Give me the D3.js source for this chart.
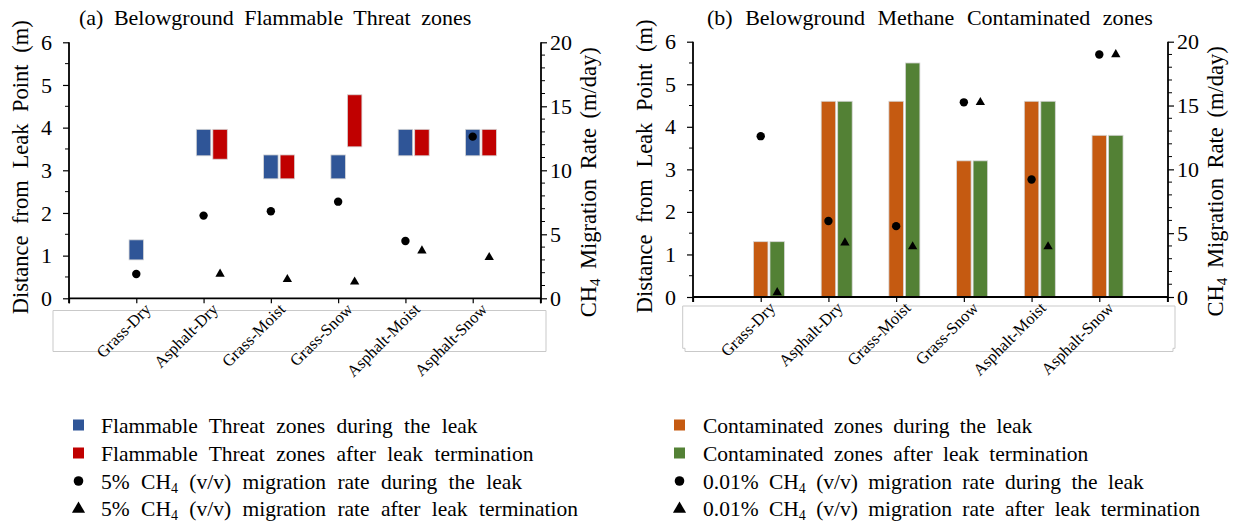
<!DOCTYPE html>
<html>
<head>
<meta charset="utf-8">
<script src="https://cdn.jsdelivr.net/npm/d3@7"></script>
<style>
  html, body { margin: 0; padding: 0; background: #fff; }
  svg { display: block; }
  text { font-family: "Liberation Serif", "Times New Roman", serif; fill: #000; }
</style>
</head>
<body>
<svg id="chart" width="1236" height="521"></svg>
<script>
// ---- data ----
const categories = ["Grass-Dry", "Asphalt-Dry", "Grass-Moist", "Grass-Snow", "Asphalt-Moist", "Asphalt-Snow"];

// (a) flammable threat zones: floating ranges [low, high] in m
const flamDuringLow  = [0.90, 3.34, 2.80, 2.80, 3.34, 3.34];
const flamDuringHigh = [1.37, 3.96, 3.36, 3.36, 3.96, 3.96];
const flamAfterLow   = [null, 3.26, 2.80, 3.55, 3.34, 3.34];
const flamAfterHigh  = [null, 3.96, 3.36, 4.77, 3.96, 3.96];
// 5% CH4 migration rate (m/day)
const rate5During = [1.90, 6.46, 6.80, 7.55, 4.48, 12.63];
const rate5After  = [null, 1.90, 1.48, 1.28, 3.72, 3.20];

// (b) contaminated zones (m)
const contDuring = [1.3, 4.6, 4.6, 3.2, 4.6, 3.8];
const contAfter  = [1.3, 4.6, 5.5, 3.2, 4.6, 3.8];
// 0.01% CH4 migration rate (m/day)
const rate001During = [12.6, 5.95, 5.55, 15.25, 9.2, 19.0];
const rate001After  = [0.35, 4.25, 3.95, 15.25, 3.95, 19.0];

const leftTicks  = [0, 1, 2, 3, 4, 5, 6];
const rightTicks = [0, 5, 10, 15, 20];

const C = { blue: "#2F5597", red: "#C00000", orange: "#C55A11", green: "#538135" };
const FONT = "'Liberation Serif', 'Times New Roman', serif";

const svg = d3.select("#chart");

function drawPanel(cfg) {
  const g = svg.append("g");
  // category positions sit on integer slots 1..6 of a 0..7 axis
  const x = d3.scaleLinear().domain([0, 7]).range([cfg.x0, cfg.x1]);
  const yL = d3.scaleLinear().domain([0, 6]).range([cfg.yBot, cfg.yTop]);
  const yR = d3.scaleLinear().domain([0, 20]).range([cfg.yBot, cfg.yTop]);
  const barW = 14.5, off = 16.5;
  const cx = i => x(i + 1);

  // label frame under the category axis
  g.append("path").attr("d", cfg.frame)
    .attr("fill", "none").attr("stroke", "#c9c9c9").attr("stroke-width", 1);

  // bars
  cfg.bars.forEach(b => {
    g.append("g").selectAll("rect")
      .data(categories.map((c, i) => ({ i, lo: b.lo[i], hi: b.hi[i] })).filter(d => d.hi != null))
      .join("rect")
      .attr("x", d => cx(d.i) + b.dx * off - barW / 2)
      .attr("width", barW)
      .attr("y", d => yL(d.hi))
      .attr("height", d => yL(d.lo) - yL(d.hi))
      .attr("fill", b.color)
      .attr("stroke", "#d6d6d6").attr("stroke-width", 0.8);
  });

  // migration rate markers (right axis)
  g.append("g").selectAll("circle")
    .data(cfg.dots.map((v, i) => ({ i, v })).filter(d => d.v != null))
    .join("circle")
    .attr("cx", d => cx(d.i)).attr("cy", d => yR(d.v)).attr("r", 4.2).attr("fill", "#000");
  const tri = d3.symbol().type(d3.symbolTriangle).size(38);
  g.append("g").selectAll("path")
    .data(cfg.tris.map((v, i) => ({ i, v })).filter(d => d.v != null))
    .join("path")
    .attr("d", tri)
    .attr("transform", d => `translate(${cx(d.i) + off},${yR(d.v)})`)
    .attr("fill", "#000");

  // left axis with half-unit minor ticks
  const axL = g.append("g").attr("transform", `translate(${cfg.x0},0)`)
    .call(d3.axisLeft(yL).tickValues(leftTicks).tickSize(6).tickPadding(11).tickFormat(d3.format("d")));
  axL.append("g").selectAll("line").data(d3.range(0.5, 6, 1)).join("line")
    .attr("x1", -4).attr("x2", 0).attr("y1", d => yL(d)).attr("y2", d => yL(d)).attr("stroke", "#000");

  // right axis with unit minor ticks
  const axR = g.append("g").attr("transform", `translate(${cfg.x1 + 1},0)`)
    .call(d3.axisRight(yR).tickValues(rightTicks).tickSize(6).tickPadding(3));
  axR.append("g").selectAll("line").data(d3.range(1, 20).filter(v => v % 5 !== 0)).join("line")
    .attr("x1", 0).attr("x2", 4).attr("y1", d => yR(d)).attr("y2", d => yR(d)).attr("stroke", "#000");

  [axL, axR].forEach(a => {
    a.attr("font-family", FONT).attr("font-size", 22);
    a.select(".domain").remove();
    a.selectAll(".tick line").attr("stroke-width", 1.2);
    a.selectAll(".tick text").style("font-family", FONT).style("font-size", "22px");
  });
  g.append("line").attr("x1", cfg.x0).attr("x2", cfg.x0).attr("y1", cfg.yTop).attr("y2", cfg.yBot + 5)
    .attr("stroke", "#000").attr("stroke-width", 1.8);
  g.append("line").attr("x1", cfg.x1 + 1).attr("x2", cfg.x1 + 1).attr("y1", cfg.yTop).attr("y2", cfg.yBot + 5)
    .attr("stroke", "#000").attr("stroke-width", 1.8);

  // category axis
  const axB = g.append("g").attr("transform", `translate(0,${cfg.yBot})`)
    .call(d3.axisBottom(x).tickValues(d3.range(0, 8)).tickSize(5).tickFormat(""));
  axB.select(".domain").attr("d", `M${cfg.x0},0H${cfg.x1 + 1}`).attr("stroke-width", 1.8);
  axB.selectAll(".tick line").attr("stroke-width", 1.2);

  g.append("g").selectAll("text").data(categories).join("text")
    .attr("transform", (d, i) => `translate(${cx(i) + 15.5},${cfg.yBot + 12}) rotate(-45)`)
    .attr("text-anchor", "end")
    .style("font-size", "16.5px")
    .text(d => d);

  // titles
  g.append("text").attr("x", cfg.titleX).attr("y", 25)
    .style("font-size", "22px").style("word-spacing", cfg.titleSpace + "px").text(cfg.title);

  g.append("text")
    .attr("transform", `translate(${cfg.x0 - 49},${(cfg.yTop + cfg.yBot) / 2 - 3}) rotate(-90)`)
    .attr("text-anchor", "middle").attr("dy", "0.35em")
    .style("font-size", "22.5px").style("word-spacing", "6px")
    .text("Distance from Leak Point (m)");

  const rt = g.append("text")
    .attr("transform", `translate(${cfg.x1 + 48},${(cfg.yTop + cfg.yBot) / 2 + 12}) rotate(-90)`)
    .attr("text-anchor", "middle").attr("dy", "0.35em")
    .style("font-size", "22.5px").style("word-spacing", "4px");
  rt.append("tspan").text("CH");
  rt.append("tspan").attr("dy", "4").style("font-size", "15px").text("4");
  rt.append("tspan").attr("dy", "-4").text(" Migration Rate (m/day)");

  // legend
  const lg = g.append("g");
  const rows = [425, 453, 481, 508];
  cfg.legend.forEach((item, k) => {
    const y = rows[k];
    if (item.type === "square") {
      lg.append("rect").attr("x", cfg.legX - 5.5).attr("y", y - 5.5).attr("width", 11).attr("height", 11)
        .attr("fill", item.color);
    } else if (item.type === "circle") {
      lg.append("circle").attr("cx", cfg.legX).attr("cy", y).attr("r", 4.8).attr("fill", "#000");
    } else {
      lg.append("path").attr("d", d3.symbol().type(d3.symbolTriangle).size(75))
        .attr("transform", `translate(${cfg.legX},${y + 1})`).attr("fill", "#000");
    }
    const t = lg.append("text").attr("x", cfg.legTextX).attr("y", y + 7.5)
      .style("font-size", "21.5px").style("word-spacing", cfg.legSpace + "px");
    let shift = 0;
    item.parts.forEach(p => {
      if (p.sub) {
        t.append("tspan").attr("dy", 4).style("font-size", "14px").text(p.sub);
        shift = 4;
      } else {
        t.append("tspan").attr("dy", -shift).text(p.t);
        shift = 0;
      }
    });
  });
}

drawPanel({
  x0: 69, x1: 540, yTop: 42.3, yBot: 298.3,
  frame: "M53,310.5H546V351.5H53Z",
  bars: [
    { lo: flamDuringLow, hi: flamDuringHigh, color: C.blue, dx: 0 },
    { lo: flamAfterLow, hi: flamAfterHigh, color: C.red, dx: 1 }
  ],
  dots: rate5During, tris: rate5After,
  title: "(a) Belowground Flammable Threat zones", titleX: 79, titleSpace: 5,
  legX: 78.5, legTextX: 101, legSpace: 6,
  legend: [
    { type: "square", color: C.blue, parts: [{ t: "Flammable Threat zones during the leak" }] },
    { type: "square", color: C.red, parts: [{ t: "Flammable Threat zones after leak termination" }] },
    { type: "circle", parts: [{ t: "5% CH" }, { sub: "4" }, { t: " (v/v) migration rate during the leak" }] },
    { type: "tri", parts: [{ t: "5% CH" }, { sub: "4" }, { t: " (v/v) migration rate after leak termination" }] }
  ]
});

drawPanel({
  x0: 693, x1: 1167, yTop: 41.7, yBot: 297,
  frame: "M685,351.5V348.3H682.7V306H1175V348.3H1173V351.5Z",
  bars: [
    { lo: contDuring.map(() => 0), hi: contDuring, color: C.orange, dx: 0 },
    { lo: contAfter.map(() => 0), hi: contAfter, color: C.green, dx: 1 }
  ],
  dots: rate001During, tris: rate001After,
  title: "(b) Belowground Methane Contaminated zones", titleX: 707, titleSpace: 7,
  legX: 679.5, legTextX: 703, legSpace: 5,
  legend: [
    { type: "square", color: C.orange, parts: [{ t: "Contaminated zones during the leak" }] },
    { type: "square", color: C.green, parts: [{ t: "Contaminated zones after leak termination" }] },
    { type: "circle", parts: [{ t: "0.01% CH" }, { sub: "4" }, { t: " (v/v) migration rate during the leak" }] },
    { type: "tri", parts: [{ t: "0.01% CH" }, { sub: "4" }, { t: " (v/v) migration rate after leak termination" }] }
  ]
});
</script>
</body>
</html>
